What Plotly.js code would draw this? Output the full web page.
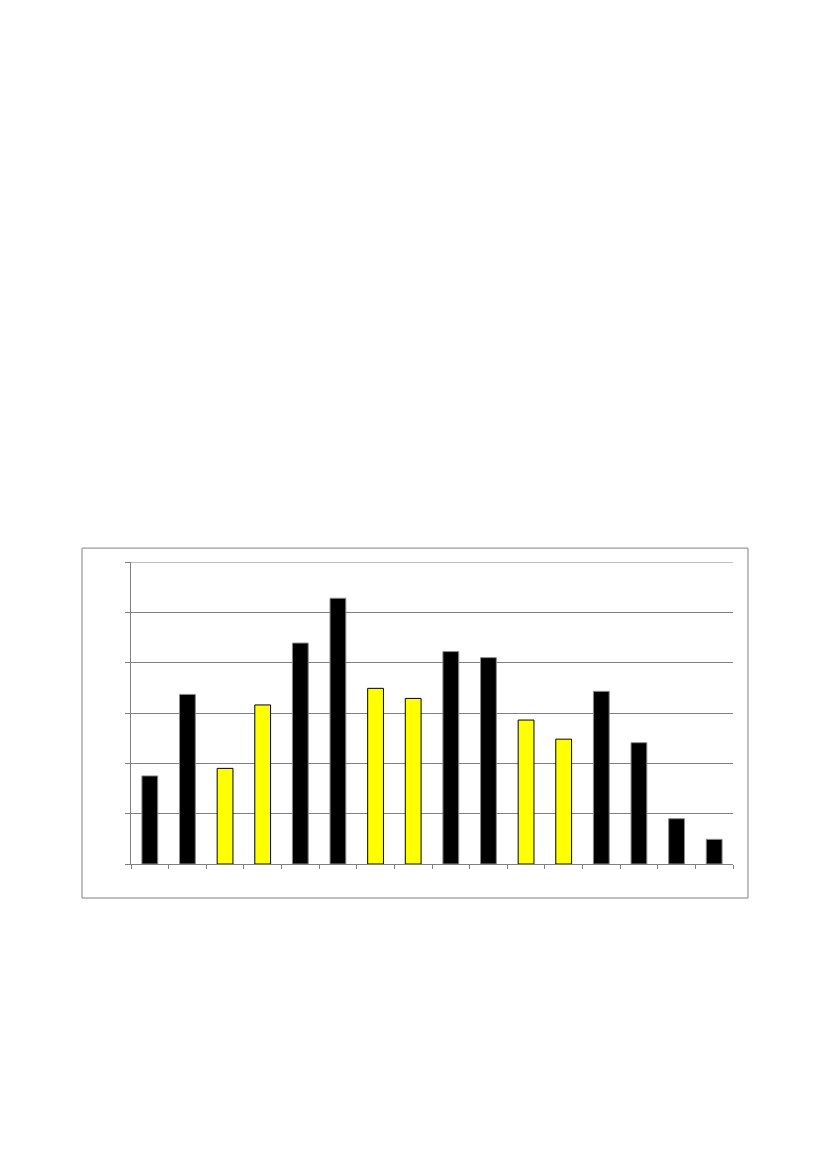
<!DOCTYPE html>
<html>
<head>
<meta charset="utf-8">
<script src="https://cdn.plot.ly/plotly-3.0.1.min.js"></script>
<style>
  body { margin: 0; background: #fff; }
  #chart { width: 827px; height: 1169px; }
</style>
</head>
<body>
<div id="chart"></div>
<script>
// Datos (sin etiquetas visibles)
const categories = ['1', '2', '3', '4', '5', '6', '7', '8', '9', '10', '11', '12', '13', '14', '15', '16'];
const values = [1.75, 3.37, 1.90, 3.16, 4.39, 5.28, 3.49, 3.29, 4.22, 4.10, 2.86, 2.48, 3.43, 2.41, 0.90, 0.49];
const groups = ['negro', 'negro', 'amarillo', 'amarillo', 'negro', 'negro', 'amarillo', 'amarillo',
                'negro', 'negro', 'amarillo', 'amarillo', 'negro', 'negro', 'negro', 'negro'];
const yMax = 6;

const fillColors = groups.map(g => g === 'amarillo' ? '#FFFF00' : '#000000');
const lineColors = groups.map(g => g === 'amarillo' ? '#000000' : '#8c8c8c');

const data = [{
    type: 'bar',
    x: categories,
    y: values,
    marker: {
        color: fillColors,
        line: { color: lineColors, width: 1 }
    },
    hoverinfo: 'none'
}];

const layout = {
    width: 827,
    height: 1169,
    margin: { l: 131, r: 94, t: 562, b: 305 },
    paper_bgcolor: '#ffffff',
    plot_bgcolor: '#ffffff',
    showlegend: false,
    bargap: 0.58,
    xaxis: {
        type: 'category',
        showticklabels: false,
        showline: true,
        linecolor: '#808080',
        linewidth: 1,
        ticks: 'outside',
        tickson: 'boundaries',
        ticklen: 4,
        tickcolor: '#808080',
        showgrid: false,
        zeroline: false
    },
    yaxis: {
        range: [0, yMax],
        tick0: 0,
        dtick: 1,
        showticklabels: false,
        showline: true,
        linecolor: '#808080',
        linewidth: 1,
        ticks: 'outside',
        ticklen: 5,
        tickcolor: '#808080',
        showgrid: true,
        gridcolor: '#808080',
        gridwidth: 1,
        zeroline: false
    },
    shapes: [
        {
            // marco exterior del gráfico
            type: 'rect',
            xref: 'paper', yref: 'paper',
            x0: -0.0814, x1: 1.0249,
            y0: -0.1126, y1: 1.046,
            line: { color: '#808080', width: 1 },
            fillcolor: 'rgba(0,0,0,0)',
            layer: 'below'
        },
        {
            // línea de cuadrícula superior
            type: 'line',
            xref: 'paper', yref: 'y',
            x0: 0, x1: 1,
            y0: yMax, y1: yMax,
            line: { color: '#808080', width: 1 },
            layer: 'below'
        }
    ]
};

Plotly.newPlot('chart', data, layout, { displayModeBar: false, staticPlot: true });
</script>
</body>
</html>
